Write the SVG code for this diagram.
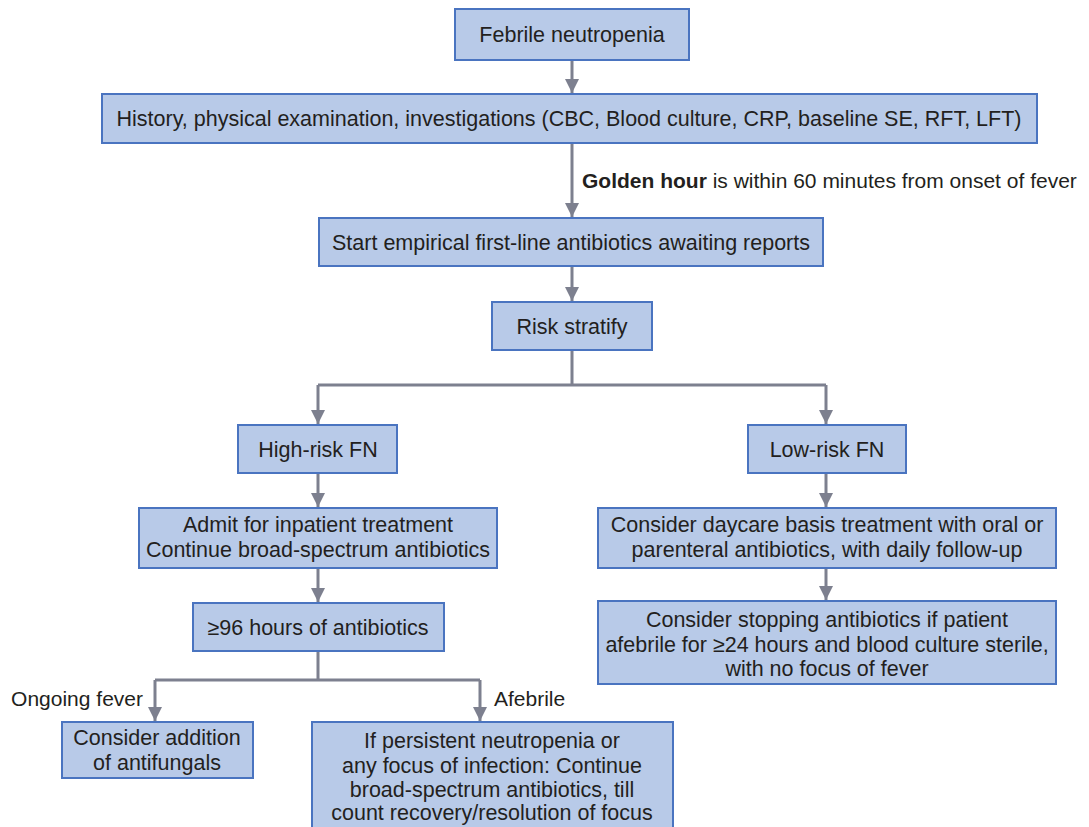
<svg xmlns="http://www.w3.org/2000/svg" width="1089" height="827" viewBox="0 0 1089 827">
<style>
.box{fill:#b8cae8;stroke:#4a74c0;stroke-width:2}
.t{font-family:"Liberation Sans",Arial,sans-serif;font-size:21.5px;fill:#231f20;text-anchor:middle}
.l{font-family:"Liberation Sans",Arial,sans-serif;font-size:21px;fill:#231f20}
.c{fill:none;stroke:#7d808f;stroke-width:3}
</style>
<defs>
<marker id="ah" markerUnits="userSpaceOnUse" markerWidth="16" markerHeight="16" refX="14" refY="8" orient="auto">
<path d="M0,1 L14,8 L0,15 Z" fill="#7d808f"/>
</marker>
</defs>
<g id="connectors">
<path class="c" d="M572,60 V93" marker-end="url(#ah)"/>
<path class="c" d="M572,143 V217" marker-end="url(#ah)"/>
<path class="c" d="M572,266 V301" marker-end="url(#ah)"/>
<path class="c" d="M572,350 V385 M318,385 H826"/>
<path class="c" d="M318,385 V424" marker-end="url(#ah)"/>
<path class="c" d="M826,385 V424" marker-end="url(#ah)"/>
<path class="c" d="M318,473 V507" marker-end="url(#ah)"/>
<path class="c" d="M826,473 V507" marker-end="url(#ah)"/>
<path class="c" d="M318,568 V602" marker-end="url(#ah)"/>
<path class="c" d="M826,568 V600" marker-end="url(#ah)"/>
<path class="c" d="M318,651 V680 M155,680 H480"/>
<path class="c" d="M155,680 V721" marker-end="url(#ah)"/>
<path class="c" d="M480,680 V721" marker-end="url(#ah)"/>
<text class="l" x="582" y="188"><tspan font-weight="bold">Golden hour</tspan> is within 60 minutes from onset of fever</text>
<text class="l" x="143" y="706" text-anchor="end">Ongoing fever</text>
<text class="l" x="494" y="706">Afebrile</text>
</g>
<g id="n1"><rect class="box" x="455" y="9" width="234" height="51"/><text class="t" x="572" y="42">Febrile neutropenia</text></g>
<g id="n2"><rect class="box" x="102" y="94" width="935" height="49"/><text class="t" x="569" y="126">History, physical examination, investigations (CBC, Blood culture, CRP, baseline SE, RFT, LFT)</text></g>
<g id="n3"><rect class="box" x="319" y="218" width="504" height="48"/><text class="t" x="571" y="250">Start empirical first-line antibiotics awaiting reports</text></g>
<g id="n4"><rect class="box" x="492" y="302" width="160" height="48"/><text class="t" x="572" y="334">Risk stratify</text></g>
<g id="n5"><rect class="box" x="238" y="425" width="159" height="48"/><text class="t" x="318" y="457">High-risk FN</text></g>
<g id="n6"><rect class="box" x="748" y="425" width="158" height="48"/><text class="t" x="827" y="457">Low-risk FN</text></g>
<g id="n7"><rect class="box" x="139" y="508" width="358" height="60"/><text class="t" x="318" y="532">Admit for inpatient treatment</text><text class="t" x="318" y="557">Continue broad-spectrum antibiotics</text></g>
<g id="n8"><rect class="box" x="598" y="508" width="458" height="60"/><text class="t" x="827" y="532">Consider daycare basis treatment with oral or</text><text class="t" x="827" y="557">parenteral antibiotics, with daily follow-up</text></g>
<g id="n9"><rect class="box" x="193" y="603" width="251" height="48"/><text class="t" x="318" y="635">≥96 hours of antibiotics</text></g>
<g id="n10"><rect class="box" x="598" y="601" width="458" height="83"/><text class="t" x="827" y="627">Consider stopping antibiotics if patient</text><text class="t" x="827" y="652">afebrile for ≥24 hours and blood culture sterile,</text><text class="t" x="827" y="676">with no focus of fever</text></g>
<g id="n11"><rect class="box" x="62" y="722" width="191" height="56"/><text class="t" x="157" y="745">Consider addition</text><text class="t" x="157" y="770">of antifungals</text></g>
<g id="n12"><rect class="box" x="312" y="722" width="361" height="110"/><text class="t" x="492" y="748">If persistent neutropenia or</text><text class="t" x="492" y="773">any focus of infection: Continue</text><text class="t" x="492" y="797">broad-spectrum antibiotics, till</text><text class="t" x="492" y="820">count recovery/resolution of focus</text></g>
</svg>
